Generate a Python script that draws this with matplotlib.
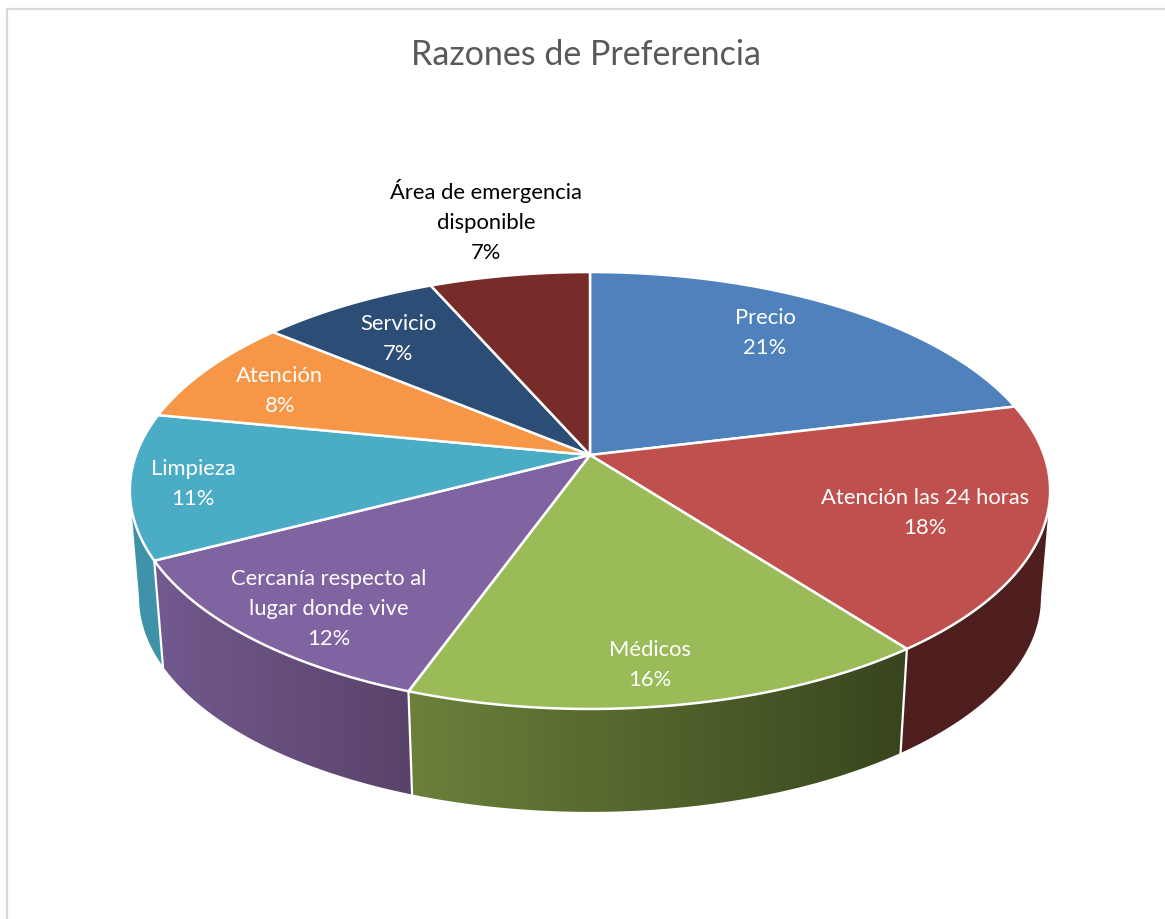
import numpy as np
import matplotlib
matplotlib.use('Agg')
import matplotlib.pyplot as plt
from matplotlib.colors import LinearSegmentedColormap
from matplotlib.patches import Polygon

plt.rcParams['font.family'] = ['Lato', 'DejaVu Sans']

# data
title = 'Razones de Preferencia'
categories = ['Precio', 'Atención las 24 horas', 'Médicos',
              'Cercanía respecto al\nlugar donde vive', 'Limpieza',
              'Atención', 'Servicio', 'Área de emergencia\ndisponible']
values = [21.2, 18.4, 15.9, 11.9, 10.7, 7.9, 7.4, 6.6]
percent_labels = ['21%', '18%', '16%', '12%', '11%', '8%', '7%', '7%']

# styles
top_colors = ['#4f81bd', '#c0504d', '#9bbb59', '#8064a2',
              '#4bacc6', '#f79646', '#2c4d75', '#772c2a']
side_left = ['#2c4d75', '#4e1f1e', '#6b813a', '#72598f',
             '#3f93a9', '#a5642e', '#1d3350', '#4f1d1c']
side_right = ['#2c4d75', '#4e1f1e', '#38451e', '#594369',
              '#3f93a9', '#a5642e', '#1d3350', '#4f1d1c']
text_colors = ['white'] * 7 + ['black']

# label centres in pixels
label_xy = [(765, 333), (925, 513), (650, 665), (329, 609),
            (193, 484), (280, 391), (398, 339), (486, 221)]

# projection of the pie disc
CX, CY = 590, 455
AX, BY = 454, 212.7
P = 0.1625
DEPTH_SCALE = 0.98
DEPTH_CY = 563


def project(theta, r=1.0):
    x = r * np.sin(theta)
    y = r * np.cos(theta)
    d = 1 + P * y
    return CX + AX * x / d, CY - BY * y / d


def project_bottom(theta):
    sx, sy = project(theta)
    return CX + (sx - CX) * DEPTH_SCALE, DEPTH_CY + (sy - CY) * DEPTH_SCALE


fig = plt.figure(figsize=(11.65, 9.19), dpi=100)
ax = fig.add_axes([0, 0, 1, 1])
ax.axis('off')

# chart frame
ax.plot([7, 7, 1165], [919, 9, 9], color='#d9d9d9', lw=1.6, zorder=1)

edges = np.cumsum([0] + values) / sum(values) * 2 * np.pi

# the wall is only seen between the two widest points of the rim
grid = np.linspace(0, 2 * np.pi, 2000)
grid_x = project(grid)[0]
th_right = grid[np.argmax(grid_x)]
th_left = grid[np.argmin(grid_x)]

# side walls, a horizontal gradient clipped to each wall
gradient = np.linspace(0, 1, 256).reshape(1, -1)
for i in range(len(values)):
    lo = max(edges[i], th_right)
    hi = min(edges[i + 1], th_left)
    if hi <= lo:
        continue
    th = np.linspace(lo, hi, 120)
    tx, ty = project(th)
    bx, by = project_bottom(th)
    wall = Polygon(np.column_stack([np.r_[tx, bx[::-1]], np.r_[ty, by[::-1]]]),
                   closed=True, facecolor='none', edgecolor='none', zorder=2)
    ax.add_patch(wall)
    cmap = LinearSegmentedColormap.from_list('side', [side_left[i], side_right[i]])
    x0, x1 = min(tx.min(), bx.min()), max(tx.max(), bx.max())
    y0, y1 = min(ty.min(), by.min()), max(ty.max(), by.max())
    im = ax.imshow(gradient, cmap=cmap, extent=(x0, x1, y1, y0), aspect='auto', zorder=2)
    im.set_clip_path(wall)

ax.set_xlim(0, 1165)
ax.set_ylim(919, 0)

# white separators on the visible wall
for e in edges[1:]:
    sx, sy = project(e)
    ex, ey = project_bottom(e)
    if sy > 520:
        ax.plot([sx, ex], [sy, ey], color='white', lw=1.6, zorder=3)

# top faces
for i in range(len(values)):
    th = np.linspace(edges[i], edges[i + 1], 120)
    tx, ty = project(th)
    pts = np.column_stack([np.r_[CX, tx], np.r_[CY, ty]])
    ax.add_patch(Polygon(pts, closed=True, facecolor=top_colors[i],
                         edgecolor='white', lw=1.8, joinstyle='round', zorder=4))

# labels
for name, pct, (lx, ly), col in zip(categories, percent_labels, label_xy, text_colors):
    ax.text(lx, ly, name + '\n' + pct, color=col, fontsize=15.8, ha='center',
            va='center', linespacing=1.63, zorder=5)

ax.text(586, 55, title, color='#595959', fontsize=24.5, ha='center', va='center', zorder=5)

fig.savefig('out.png', dpi=100, facecolor='white')
